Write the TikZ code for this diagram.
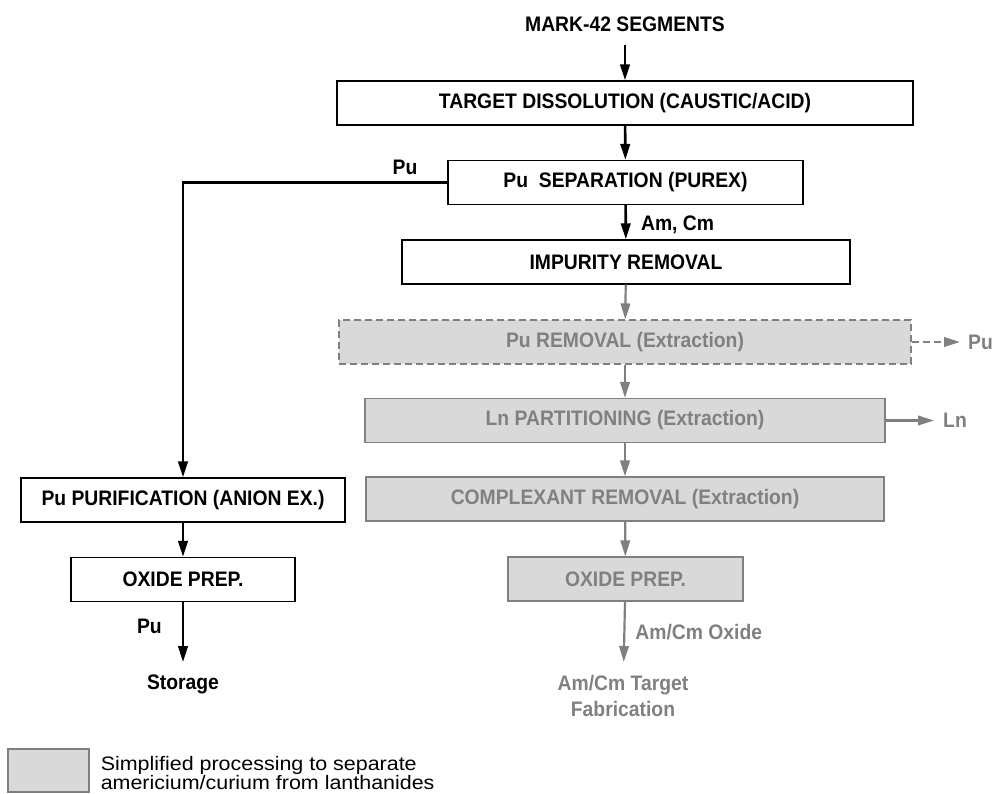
\documentclass[tikz,border=0pt]{standalone}
\usepackage{fontspec}
\setmainfont{Liberation Sans}[FakeStretch=0.92]
\newfontfamily\keyfont{Liberation Sans}[FakeStretch=1.1]
\usepackage{tikz}
\usetikzlibrary{arrows.meta,positioning}
\definecolor{boxgray}{RGB}{217,217,217}
\definecolor{txtgray}{RGB}{128,128,128}
\newcommand{\tightlines}{\lineskiplimit=-30pt\relax}

\begin{document}
\begin{tikzpicture}[x=1pt, y=-1pt,
      every node/.style={font=\bfseries\fontsize{21}{24}\selectfont, inner sep=0pt},
      procbox/.style={draw, line width=1.3pt, minimum height=44pt},
      greybox/.style={procbox, draw=txtgray, fill=boxgray, text=txtgray, line width=1.1pt},
      flow/.style={line width=2.6pt, -{Triangle[length=16pt,width=9.5pt]}},
      greyflow/.style={draw=txtgray, line width=2.2pt, -{Triangle[length=16pt,width=9.5pt]}}]
      \useasboundingbox (0,0) rectangle (994,794);
      % main line
      \node[anchor=south, inner ysep=13pt] (mark) at (625,45) {MARK-42 SEGMENTS};
      \node[procbox, minimum width=576pt] (target) at (625,103) {TARGET DISSOLUTION (CAUSTIC/ACID)};
      \node[procbox, minimum width=355pt] (pusep) at (625.5,182.5) {Pu\ \ SEPARATION (PUREX)};
      \node[procbox, minimum width=448pt] (impur) at (626,262) {IMPURITY REMOVAL};
      \node[greybox, dash pattern=on 7pt off 4pt, minimum width=572pt] (purem) at (625,342) {Pu REMOVAL (Extraction)};
      \node[greybox, minimum width=520pt] (lnpart) at (625,420.5) {Ln PARTITIONING (Extraction)};
      \node[greybox, minimum width=518pt] (complex) at (625,499) {COMPLEXANT REMOVAL (Extraction)};
      \node[greybox, minimum width=235pt] (amox) at (625.5,579) {OXIDE PREP.};
      \node[anchor=north, inner ysep=13pt, text=txtgray, align=center,
            font=\bfseries\fontsize{21}{26}\selectfont] (fab) at (623,662) {Am/Cm Target\\Fabrication};
      % Pu branch
      \node[procbox, minimum width=324pt] (pupur) at (183,500) {Pu PURIFICATION (ANION EX.)};
      \node[procbox, minimum width=224pt] (puox) at (183,579.5) {OXIDE PREP.};
      \node[anchor=north, inner ysep=13pt] (storage) at (183,662) {Storage};
      \node (pulbl) at (405,167) {Pu};
      % side streams
      \node[anchor=west, inner xsep=8pt, text=txtgray] (puout) at (960,342) {Pu};
      \node[anchor=west, inner xsep=9pt, text=txtgray] (lnout) at (934,420.5) {Ln};

      \draw[flow] (mark) -- (target);
      \draw[flow] (target) -- (pusep);
      \draw[flow] (pusep) -- (impur) node[pos=0.58, right=14pt] {Am, Cm};
      \draw[flow] (pusep.west) -| (pupur.north);
      \draw[flow] (pupur) -- (puox);
      \draw[flow] (puox) -- (storage) node[pos=0.4, left=20pt] {Pu};
      \draw[greyflow] (impur) -- (purem);
      \draw[greyflow] (purem) -- (lnpart);
      \draw[greyflow] (lnpart) -- (complex);
      \draw[greyflow] (complex) -- (amox);
      \draw[greyflow] (amox) -- (fab) node[pos=0.5, right=10pt, text=txtgray] {Am/Cm Oxide};
      \draw[greyflow, dash pattern=on 7pt off 4pt] (purem) -- (puout);
      \draw[greyflow] (lnpart) -- (lnout);

      % key
      \node[draw=txtgray, fill=boxgray, line width=1.1pt, minimum width=81pt, minimum height=43pt] (key) at (48.5,770.5) {};
      \node[right=11pt of key, yshift=-3pt, align=left, font={\keyfont\fontsize{19.5}{19}\selectfont\tightlines}] (keytext)
            {Simplified processing to separate\\americium/curium from lanthanides};
    \end{tikzpicture}
\end{document}
